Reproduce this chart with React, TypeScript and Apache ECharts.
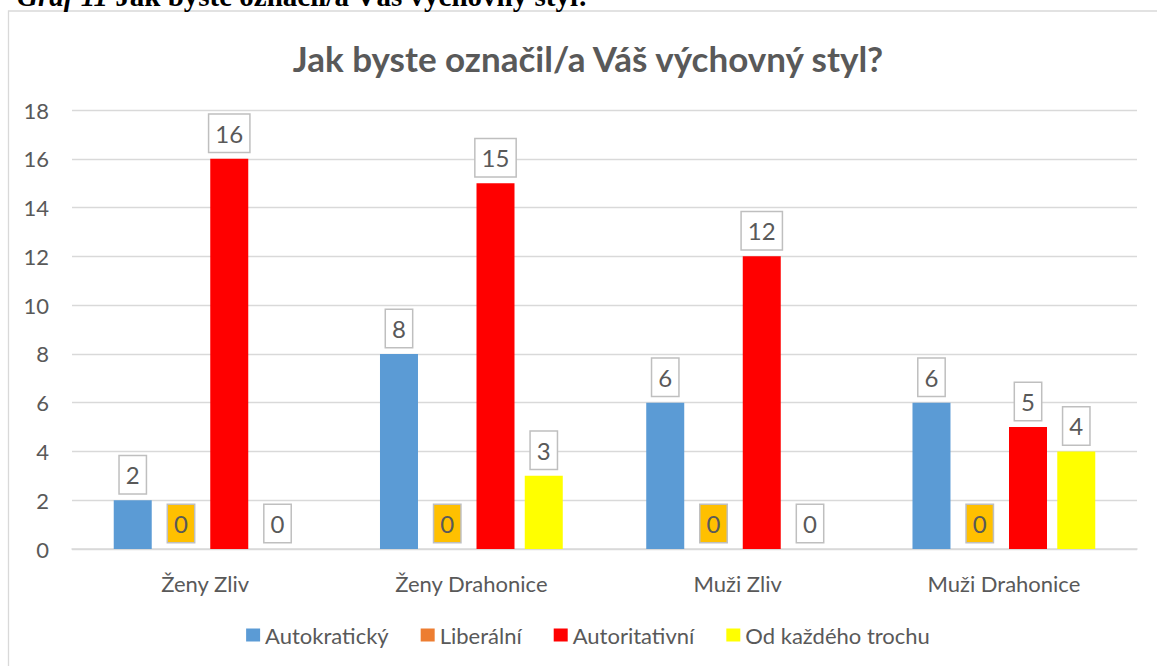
import React, { useEffect, useRef } from "react";
import * as echarts from "echarts";

const categories = ["Ženy Zliv", "Ženy Drahonice", "Muži Zliv", "Muži Drahonice"];
const seriesNames = ["Autokratický", "Liberální", "Autoritativní", "Od každého trochu"];
const autokraticky = [2, 8, 6, 6];
const liberalni = [0, 0, 0, 0];
const autoritativni = [16, 15, 12, 5];
const odKazdehoTrochu = [0, 3, 0, 4];
const yMin = 0;
const yMax = 18;
const yStep = 2;

const titleText = "Jak byste označil/a Váš výchovný styl?";
const captionItalic = "Graf 11";
const captionRest = " Jak byste označil/a Váš výchovný styl:";

const FONT = "Lato, 'Noto Sans', sans-serif";
const GREY = "#595959";

export default function App() {
  const ref = useRef<HTMLDivElement>(null);

  useEffect(() => {
    if (!ref.current) return;
    const chart = echarts.init(ref.current, undefined, { renderer: "svg" });

    const label = (bg: string) => ({
      show: true,
      position: "top",
      distance: 7,
      fontFamily: FONT,
      fontSize: 24,
      lineHeight: 25,
      color: GREY,
      backgroundColor: bg,
      borderColor: "#BFBFBF",
      borderWidth: 1.5,
      padding: [6, 6, 6, 6],
    });

    const seriesData = [autokraticky, liberalni, autoritativni, odKazdehoTrochu];
    const colors = ["#5B9BD5", "#ED7D31", "#FF0000", "#FFFF00"];
    const labelBgs = ["#FFFFFF", "#FFC000", "#FFFFFF", "#FFFFFF"];

    chart.setOption({
      animation: false,
      backgroundColor: "#FFFFFF",
      title: {
        text: titleText,
        left: "center",
        top: 35,
        textStyle: { fontFamily: FONT, fontSize: 35, fontWeight: "bold", color: GREY },
      },
      graphic: [
        {
          type: "rect",
          shape: { x: 8.5, y: 11, width: 1160, height: 700 },
          style: { fill: "none", stroke: "#D9D9D9", lineWidth: 1.3 },
          silent: true,
        },
        {
          type: "text",
          x: 17,
          y: -4,
          style: {
            text: "{i|" + captionItalic + "}{b|" + captionRest + "}",
            verticalAlign: "middle",
            rich: {
              i: { fontFamily: "'Liberation Serif', serif", fontSize: 29, fontWeight: "bold", fontStyle: "italic", fill: "#000" },
              b: { fontFamily: "'Liberation Serif', serif", fontSize: 29, fontWeight: "bold", fill: "#000" },
            },
          },
        },
      ],
      legend: {
        top: 619,
        left: "center",
        icon: "rect",
        itemWidth: 14,
        itemHeight: 13,
        itemGap: 32,
        textStyle: { fontFamily: FONT, fontSize: 22, color: GREY },
        data: seriesNames,
      },
      grid: { left: 72, right: 39, top: 110, bottom: 117, containLabel: false },
      xAxis: {
        type: "category",
        data: categories,
        axisLine: { lineStyle: { color: "#D9D9D9", width: 1.5 } },
        axisTick: { show: false },
        axisLabel: { fontFamily: FONT, fontSize: 22, color: GREY, margin: 23 },
      },
      yAxis: {
        type: "value",
        min: yMin,
        max: yMax,
        interval: yStep,
        axisLine: { show: false },
        axisTick: { show: false },
        axisLabel: { fontFamily: FONT, fontSize: 22, color: GREY, margin: 23 },
        splitLine: { lineStyle: { color: "#D9D9D9", width: 1.3 } },
      },
      series: seriesData.map((d, i) => ({
        name: seriesNames[i],
        type: "bar",
        data: d,
        barWidth: 38,
        barGap: "27%",
        itemStyle: { color: colors[i] },
        label: label(labelBgs[i]),
      })),
    });

    return () => chart.dispose();
  }, []);

  return (
    <div style={{ position: "fixed", left: 0, top: 0, width: 1157, height: 666, overflow: "hidden", background: "#fff" }}>
      <div ref={ref} style={{ width: 1176, height: 666 }} />
    </div>
  );
}
